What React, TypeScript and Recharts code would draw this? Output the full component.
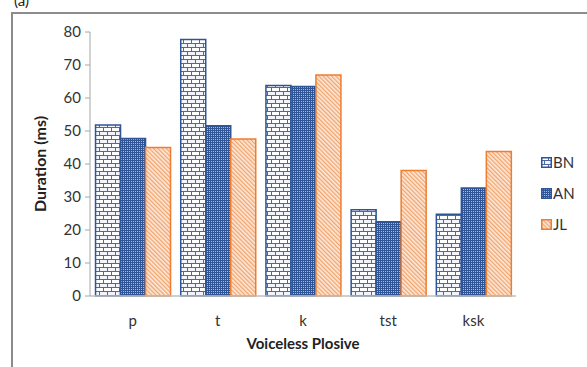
import React from 'react';
import { BarChart, Bar, XAxis, YAxis } from 'recharts';

const categories = ['p', 't', 'k', 'tst', 'ksk'];
const bnValues = [51.8, 77.7, 63.8, 26.1, 24.8];
const anValues = [47.7, 51.6, 63.5, 22.5, 32.7];
const jlValues = [45.0, 47.6, 67.0, 38.0, 43.8];
const yTicks = [0, 10, 20, 30, 40, 50, 60, 70, 80];

const series = [
  { key: 'BN', fill: 'url(#brick)', stroke: '#2f5597' },
  { key: 'AN', fill: 'url(#dots)', stroke: '#2f5597' },
  { key: 'JL', fill: 'url(#hatch)', stroke: '#ed7d31' },
];

const data = categories.map((name, i) => ({
  name,
  BN: bnValues[i],
  AN: anValues[i],
  JL: jlValues[i],
}));

const FONT = 'Lato, "Open Sans", sans-serif';

// fill patterns shared by the bars and the legend swatches
const Patterns = () => (
  <svg width={0} height={0} style={{ position: 'absolute' }}>
    <defs>
      <pattern id="brick" patternUnits="userSpaceOnUse" width={8} height={8}>
        <rect width={8} height={8} fill="#4a6ba0" />
        <rect x={0} y={0} width={7} height={3} fill="#ffffff" />
        <rect x={-4} y={4} width={7} height={3} fill="#f1f4fa" />
        <rect x={4} y={4} width={7} height={3} fill="#f1f4fa" />
      </pattern>
      <pattern id="dots" patternUnits="userSpaceOnUse" width={2} height={2}>
        <rect width={2} height={2} fill="#2f5597" />
        <rect x={1} y={1} width={1} height={1} fill="#a9bbd9" />
      </pattern>
      <pattern id="hatch" patternUnits="userSpaceOnUse" width={3} height={3} patternTransform="rotate(-45)">
        <rect width={3} height={3} fill="#fde9dc" />
        <rect x={0} y={0} width={1.3} height={3} fill="#f0a46b" />
      </pattern>
    </defs>
  </svg>
);

const App: React.FC = () => {
  return (
    <div style={{ position: 'absolute', left: 0, top: 0, width: 587, height: 367, overflow: 'hidden', background: '#fff', fontFamily: FONT }}>
      <Patterns />
      <div style={{ position: 'absolute', left: 14, top: -8, fontSize: 15, lineHeight: '16px', color: '#222' }}>(a)</div>
      <div style={{ position: 'absolute', left: 11, top: 12, width: 600, height: 400, borderLeft: '2px solid #8c8c8c', borderTop: '2px solid #8c8c8c' }} />
      <div style={{ position: 'absolute', left: 0, top: 0 }}>
        <BarChart
          width={587}
          height={367}
          data={data}
          margin={{ top: 32, right: 71, bottom: 21, left: 30 }}
          barCategoryGap="6.5%"
          barGap={0}
        >
          <XAxis
            dataKey="name"
            height={50}
            tickLine={false}
            axisLine={{ stroke: '#bfbfbf', strokeWidth: 1.5 }}
            tick={{ fill: '#333', fontSize: 15, fontFamily: FONT }}
            tickMargin={13}
            label={{ value: 'Voiceless Plosive', position: 'insideBottom', offset: -3, fill: '#222', fontSize: 15, fontWeight: 'bold', fontFamily: FONT }}
          />
          <YAxis
            width={60}
            domain={[0, 80]}
            ticks={yTicks}
            interval={0}
            tickSize={5}
            tickMargin={4}
            axisLine={{ stroke: '#a6a6a6' }}
            tickLine={{ stroke: '#a6a6a6' }}
            tick={{ fill: '#333', fontSize: 15, fontFamily: FONT }}
            label={{ value: 'Duration (ms)', angle: -90, position: 'insideLeft', offset: 10, style: { textAnchor: 'middle' }, fill: '#222', fontSize: 16, fontWeight: 'bold', fontFamily: FONT }}
          />
          {series.map((s) => (
            <Bar key={s.key} dataKey={s.key} fill={s.fill} stroke={s.stroke} strokeWidth={1.5} isAnimationActive={false} />
          ))}
        </BarChart>
      </div>
      <div style={{ position: 'absolute', left: 541, top: 155 }}>
        {series.map((s, i) => (
          <div key={s.key} style={{ position: 'absolute', top: i * 31, left: 0, display: 'flex', alignItems: 'center', whiteSpace: 'nowrap' }}>
            <svg width={11} height={11} style={{ display: 'block' }}>
              <rect x={0.75} y={0.75} width={9.5} height={9.5} fill={s.fill} stroke={s.stroke} strokeWidth={1.5} />
            </svg>
            <span style={{ fontSize: 15, color: '#333', marginLeft: 1, lineHeight: '15px' }}>{s.key}</span>
          </div>
        ))}
      </div>
    </div>
  );
};

export default App;
